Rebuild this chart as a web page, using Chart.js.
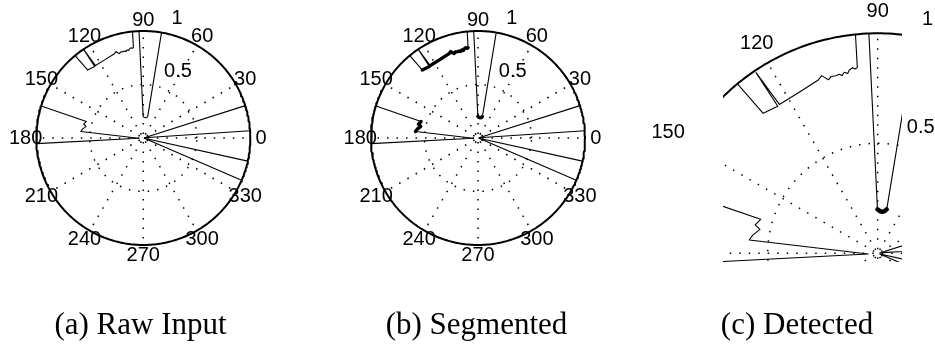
<!DOCTYPE html>
<html>
<head>
<meta charset="utf-8">
<script src="https://cdn.jsdelivr.net/npm/chart.js@4.4.1/dist/chart.umd.min.js"></script>
<style>
  html, body { margin: 0; padding: 0; background: #fff; }
  body { width: 935px; height: 345px; position: relative; overflow: hidden; }
  canvas { position: absolute; top: 0; }
</style>
</head>
<body>
<canvas id="polarA" width="330" height="345" style="left:0px"></canvas>
<canvas id="polarB" width="322" height="345" style="left:330px"></canvas>
<canvas id="polarC" width="283" height="345" style="left:652px"></canvas>
<script>
// Polar axis ticks
const angleTicks = [0, 30, 60, 90, 120, 150, 180, 210, 240, 270, 300, 330];
const radialTicks = [0.5, 1];
const radialLabelAngle = 82;
const rMax = 1;

// Range scan trace: bearing (deg) and normalised range.
// null marks a stretch where the trace runs along the max-range ring.
const traceDeg = [
  336.7, 342, 347.5, null,
  3.9, 10, 17.6, null,
  80.2, 78.4, 81, 84, 87, 90.3, 92.3, null,
  95.8, 96.26, 97.02, 97.68, 98.80, 99.47, 100.45, 101.37, 102.10, 103.21,
  104.81, 105.77, 106.46, 107.51, 108.91, 115.68, 123.44, 123.96, 124.2, 129.3, 129.6, null,
  162.6, 163.8, 166.9, 168.5, 171.7, 174.1, 184, 183
];
const traceRange = [
  1, 0.01, 1, null,
  1, 0.01, 1, null,
  1, 0.204, 0.193, 0.19, 0.192, 0.2, 1, null,
  1, 0.849, 0.844, 0.851, 0.843, 0.829, 0.837, 0.824, 0.832, 0.829,
  0.831, 0.820, 0.829, 0.847, 0.833, 0.815, 0.811, 0.99, 0.808, 0.822, 1, null,
  1, 0.554, 0.572, 0.546, 0.574, 0.587, 0.043, 1
];

// Bearing intervals of the segmented clusters and of the detected object
const segmentedFrom = [78.4, 96.2, 163.8];
const segmentedTo   = [90.3, 129.3, 174.1];
const detectedFrom  = [78.4];
const detectedTo    = [90.3];

const captions = ['(a) Raw Input', '(b) Segmented', '(c) Detected'];

const rad = d => d * Math.PI / 180;
const toXY = (deg, r) => ({ x: r * Math.cos(rad(deg)), y: r * Math.sin(rad(deg)) });

function tracePieces() {
  const pieces = [];
  let cur = [];
  traceDeg.forEach((d, i) => {
    if (d === null) { if (cur.length) pieces.push(cur); cur = []; }
    else cur.push(toXY(d, traceRange[i]));
  });
  if (cur.length) pieces.push(cur);
  return pieces;
}

function markedPieces(from, to) {
  const pieces = [];
  from.forEach((a, k) => {
    let cur = [];
    traceDeg.forEach((d, i) => {
      const inside = d !== null && d >= a && d <= to[k] && traceRange[i] < 0.95;
      if (inside) cur.push(toXY(d, traceRange[i]));
      else if (cur.length) { pieces.push(cur); cur = []; }
    });
    if (cur.length) pieces.push(cur);
  });
  return pieces;
}

function ring(r) {
  const pts = [];
  for (let d = 0; d <= 360; d += 1) pts.push(toXY(d, r));
  return pts;
}

function lineSet(points, width, dash, dashOffset) {
  return {
    data: points,
    showLine: true,
    borderColor: '#000',
    borderWidth: width,
    borderDash: dash || [],
    borderDashOffset: dashOffset || 0,
    borderCapStyle: dash ? 'butt' : 'round',
    borderJoinStyle: 'round',
    pointRadius: 0,
    pointHoverRadius: 0,
    fill: false,
    tension: 0,
    clip: 0
  };
}

function gridSets() {
  const sets = [];
  angleTicks.forEach(a => sets.push(lineSet([toXY(a, 0), toXY(a, rMax)], 1.5, [1.5, 8], 5.5)));
  radialTicks.filter(r => r < rMax).forEach(r => sets.push(lineSet(ring(r), 1.5, [1.5, 8], 0)));
  sets.push(lineSet(ring(rMax), 2, null));
  return sets;
}

const polarText = {
  id: 'polarText',
  afterDatasetsDraw(chart, args, opts) {
    const { ctx } = chart;
    const sx = chart.scales.x, sy = chart.scales.y;
    ctx.save();
    ctx.fillStyle = '#000';
    ctx.font = '20px "Liberation Sans", Arial, sans-serif';
    ctx.textAlign = 'center';
    ctx.textBaseline = 'middle';
    angleTicks.forEach(a => {
      const p = toXY(a, 1.1 * rMax);
      ctx.fillText(String(a), sx.getPixelForValue(p.x), sy.getPixelForValue(p.y));
    });
    ctx.textAlign = 'left';
    radialTicks.forEach(r => {
      const p = toXY(radialLabelAngle, r + 0.025);
      ctx.fillText(String(r), sx.getPixelForValue(p.x) + 13, sy.getPixelForValue(p.y) - 11);
    });
    ctx.font = '31px "Liberation Serif", "Times New Roman", serif';
    ctx.textAlign = 'center';
    ctx.textBaseline = 'alphabetic';
    ctx.fillText(opts.caption, opts.captionX, 334);
    ctx.restore();
  }
};

function makePolar(id, cfg) {
  const canvas = document.getElementById(id);
  const W = canvas.width, H = canvas.height;
  const p = cfg.pad;
  const k = cfg.scale;
  const xmin = (p.left - cfg.cx) / k, xmax = (W - p.right - cfg.cx) / k;
  const ymax = (cfg.cy - p.top) / k, ymin = (cfg.cy - (H - p.bottom)) / k;

  const datasets = gridSets();
  tracePieces().forEach(pc => datasets.push(lineSet(pc, 1.1, null)));
  cfg.marks.forEach(pc => datasets.push(lineSet(pc, cfg.markWidth, null)));

  const axis = (min, max) => ({
    type: 'linear', display: false, min, max, bounds: 'data',
    grid: { display: false }, ticks: { display: false }
  });

  return new Chart(canvas, {
    type: 'scatter',
    data: { datasets },
    options: {
      responsive: false,
      animation: false,
      devicePixelRatio: 1,
      layout: { padding: p },
      events: [],
      scales: { x: axis(xmin, xmax), y: axis(ymin, ymax) },
      plugins: {
        legend: { display: false },
        tooltip: { enabled: false },
        polarText: { caption: cfg.caption, captionX: cfg.captionX }
      }
    },
    plugins: [polarText]
  });
}

const noPad = { left: 0, right: 0, top: 0, bottom: 0 };

makePolar('polarA', {
  cx: 143.3, cy: 138, scale: 107, pad: noPad,
  marks: [], markWidth: 1,
  caption: captions[0], captionX: 140.5
});
makePolar('polarB', {
  cx: 148, cy: 138, scale: 107, pad: noPad,
  marks: markedPieces(segmentedFrom, segmentedTo), markWidth: 3.4,
  caption: captions[1], captionX: 146.5
});
makePolar('polarC', {
  cx: 225.7, cy: 253.3, scale: 220, pad: { left: 71, right: 33, top: 0, bottom: 83 },
  marks: markedPieces(detectedFrom, detectedTo), markWidth: 4.5,
  caption: captions[2], captionX: 145
});
</script>
</body>
</html>
